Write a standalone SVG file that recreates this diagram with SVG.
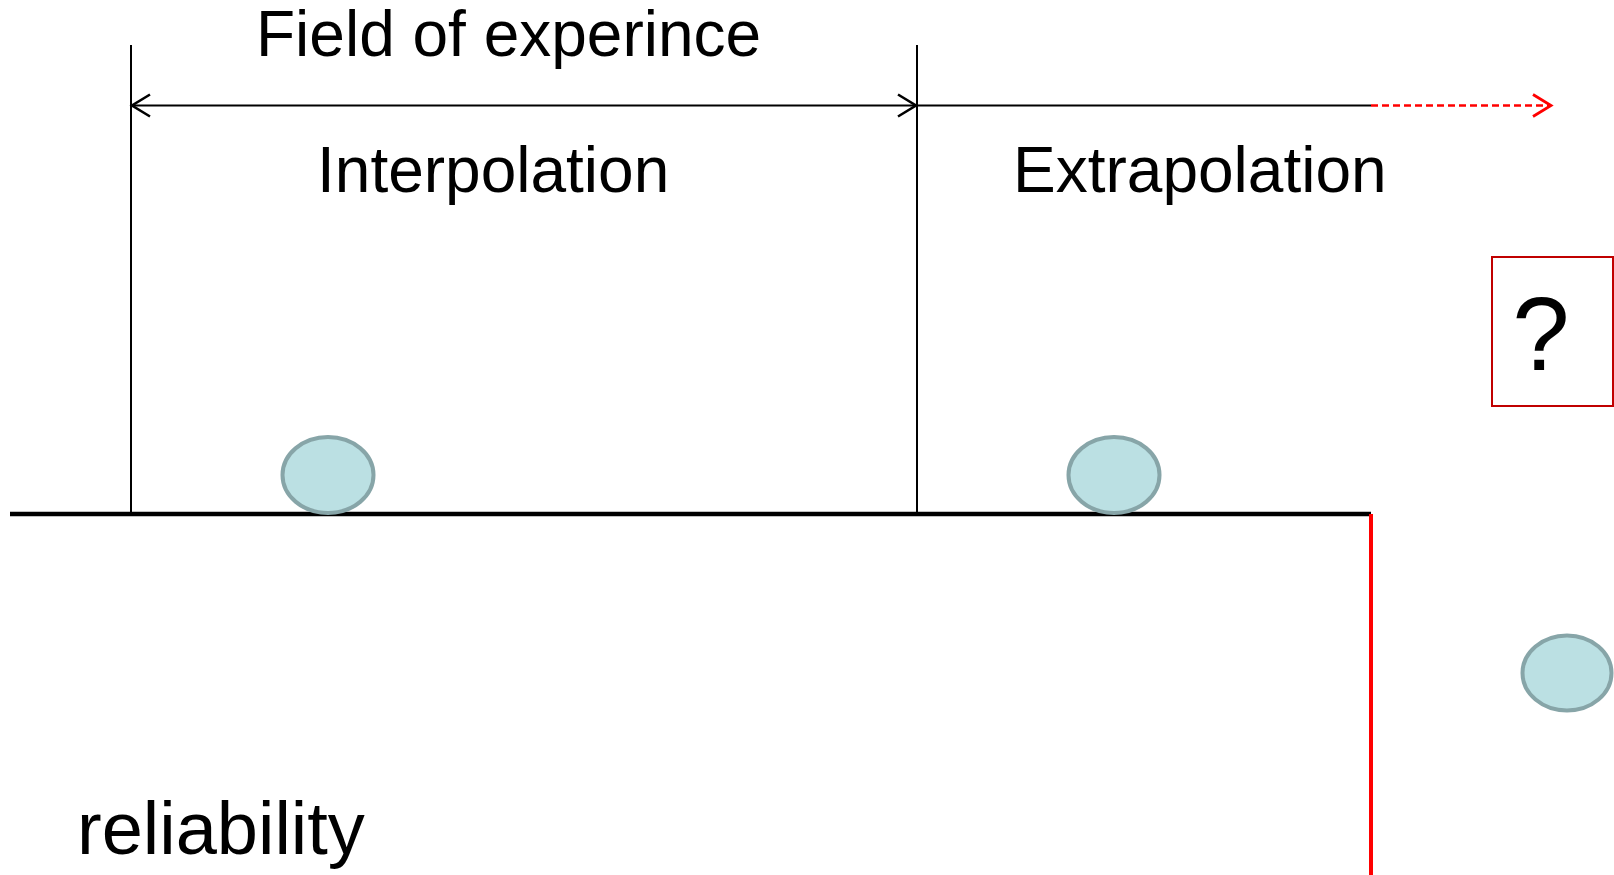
<svg xmlns="http://www.w3.org/2000/svg" width="1614" height="875" viewBox="0 0 1614 875">
<defs>
<style>
.t{font-family:"Liberation Sans",Arial,sans-serif;fill:#000}
.thin{stroke:#000;stroke-width:2;fill:none}
.ball{fill:#BBE0E3;stroke:#87A5A8;stroke-width:4}
</style>
<marker id="ah" markerWidth="24" markerHeight="26" refX="20" refY="13" orient="auto-start-reverse" markerUnits="userSpaceOnUse">
<path d="M2,2 L20,13 L2,24" fill="none" stroke="#000" stroke-width="2.6"/>
</marker>
<marker id="ahr" markerWidth="24" markerHeight="26" refX="20" refY="13" orient="auto" markerUnits="userSpaceOnUse">
<path d="M2,2 L20,13 L2,24" fill="none" stroke="#F00" stroke-width="2.8"/>
</marker>
</defs>
<rect width="1614" height="875" fill="#fff"/>
<g id="connectors">
<line class="thin" x1="131" y1="45" x2="131" y2="514"/>
<line class="thin" x1="917" y1="45" x2="917" y2="514"/>
<line class="thin" x1="132" y1="105.5" x2="916" y2="105.5" marker-start="url(#ah)" marker-end="url(#ah)"/>
<line class="thin" x1="917" y1="105.5" x2="1371" y2="105.5"/>
<line x1="1371" y1="105.5" x2="1551" y2="105.5" stroke="#F00" stroke-width="2.5" stroke-dasharray="7,4" marker-end="url(#ahr)"/>
<line x1="10" y1="514" x2="1371" y2="514" stroke="#000" stroke-width="4.5"/>
<line x1="1371" y1="514" x2="1371" y2="875" stroke="#F00" stroke-width="4"/>
</g>
<g id="field-label"><text class="t" x="256" y="56" font-size="64">Field of experince</text></g>
<g id="interpolation"><text class="t" x="317" y="192" font-size="64">Interpolation</text></g>
<g id="extrapolation"><text class="t" x="1013" y="192" font-size="64">Extrapolation</text></g>
<g id="reliability"><text class="t" x="77" y="854" font-size="74">reliability</text></g>
<g id="question-box">
<rect x="1492" y="257" width="121" height="149" fill="#fff" stroke="#C00000" stroke-width="2"/>
<text class="t" x="1541" y="370" font-size="103" text-anchor="middle">?</text>
</g>
<g id="ball-interpolation"><ellipse class="ball" cx="328" cy="475" rx="45.5" ry="38"/></g>
<g id="ball-extrapolation"><ellipse class="ball" cx="1114" cy="475" rx="45.5" ry="38"/></g>
<g id="ball-fallen"><ellipse class="ball" cx="1567" cy="673" rx="44.5" ry="37.5"/></g>
</svg>
